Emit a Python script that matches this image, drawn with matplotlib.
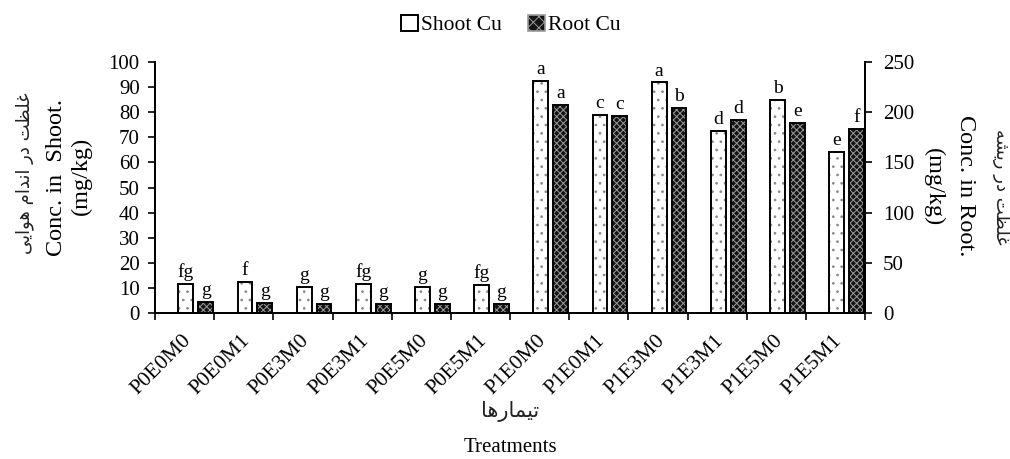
import numpy as np
import matplotlib
matplotlib.use("Agg")
import matplotlib.pyplot as plt
from matplotlib.patches import Patch

treatments = ["P0E0M0", "P0E0M1", "P0E3M0", "P0E3M1", "P0E5M0", "P0E5M1",
              "P1E0M0", "P1E0M1", "P1E3M0", "P1E3M1", "P1E5M0", "P1E5M1"]
shoot_cu = [11.7, 12.6, 10.4, 11.7, 10.4, 11.2, 92.5, 79.0, 91.8, 72.5, 84.8, 64.3]
root_cu = [11.5, 10.5, 9.0, 9.5, 9.0, 9.0, 207.0, 196.0, 204.0, 192.5, 189.0, 183.5]
shoot_letters = ["fg", "f", "g", "fg", "g", "fg", "a", "c", "a", "d", "b", "e"]
root_letters = ["g", "g", "g", "g", "g", "g", "a", "c", "b", "d", "e", "f"]

# persian text: matplotlib has no arabic shaping, so pick presentation forms by hand
# (iso, final, initial, medial)
FORMS = {
    "ا": ("\uFE8D", "\uFE8E", None, None),
    "ت": ("\uFE95", "\uFE96", "\uFE97", "\uFE98"),
    "د": ("\uFEA9", "\uFEAA", None, None),
    "ر": ("\uFEAD", "\uFEAE", None, None),
    "ش": ("\uFEB5", "\uFEB6", "\uFEB7", "\uFEB8"),
    "ظ": ("\uFEC5", "\uFEC6", "\uFEC7", "\uFEC8"),
    "غ": ("\uFECD", "\uFECE", "\uFECF", "\uFED0"),
    "ل": ("\uFEDD", "\uFEDE", "\uFEDF", "\uFEE0"),
    "م": ("\uFEE1", "\uFEE2", "\uFEE3", "\uFEE4"),
    "ن": ("\uFEE5", "\uFEE6", "\uFEE7", "\uFEE8"),
    "ه": ("\uFEE9", "\uFEEA", "\uFEEB", "\uFEEC"),
    "و": ("\uFEED", "\uFEEE", None, None),
    "ی": ("\uFEEF", "\uFEF0", "\uFEF3", "\uFEF4"),
}


def shape(txt):
    words = []
    for w in txt.split(" "):
        res = []
        for i, c in enumerate(w):
            iso, fin, ini, med = FORMS[c]
            prev_join = i > 0 and FORMS[w[i - 1]][2] is not None
            next_join = ini is not None and i < len(w) - 1
            if prev_join and next_join:
                res.append(med)
            elif prev_join:
                res.append(fin)
            elif next_join:
                res.append(ini)
            else:
                res.append(iso)
        words.append("".join(res))
    return " ".join(words)[::-1]


fa_shoot = shape("غلظت در اندام هوایی")
fa_root = shape("غلظت در ریشه")
fa_treat = shape("تیمارها")

plt.rcParams["font.family"] = ["Liberation Serif", "DejaVu Sans"]
plt.rcParams["hatch.linewidth"] = 0.7

fig = plt.figure(figsize=(10.1, 4.59), dpi=100)
ax = fig.add_axes([0.1535, 0.3174, 0.7030, 0.5481])
ax2 = ax.twinx()

x = np.arange(len(treatments))
w = 0.25
xs = x + 0.52
xr = x + 0.855

# shoot bars: white with sparse marks
ax.bar(xs, shoot_cu, w, color="white", edgecolor="#888888", hatch="..", lw=0, zorder=2)
ax.bar(xs, shoot_cu, w, color="none", edgecolor="black", lw=1.4, zorder=3)
# root bars: dark with light lattice
ax2.bar(xr, root_cu, w, color="#141414", edgecolor="#9a9a9a", hatch="xxxxx", lw=0, zorder=2)
ax2.bar(xr, root_cu, w, color="none", edgecolor="black", lw=1.4, zorder=3)

for xi, v, t in zip(xs, shoot_cu, shoot_letters):
    ax.annotate(t, (xi, v), xytext=(0, 2), textcoords="offset points",
                ha="center", va="bottom", fontsize=14)
for xi, v, t in zip(xr, root_cu, root_letters):
    ax2.annotate(t, (xi, v), xytext=(0, 2), textcoords="offset points",
                 ha="center", va="bottom", fontsize=14)

ax.set_xlim(0, len(treatments))
ax.set_ylim(0, 100)
ax2.set_ylim(0, 250)
ax.set_yticks(np.arange(0, 101, 10))
ax2.set_yticks(np.arange(0, 251, 50))
ax.set_xticks(np.arange(0, len(treatments) + 1))
ax.set_xticklabels([])
ax.set_xticks(x + 0.45, minor=True)
ax.set_xticklabels(treatments, minor=True, rotation=45, ha="right",
                   rotation_mode="anchor", fontsize=15.5)
ax.tick_params(axis="x", which="minor", length=0, pad=13)
ax.tick_params(axis="x", which="major", length=5, width=1.2, direction="out")
ax.tick_params(axis="y", labelsize=15, length=5, width=1.2, pad=6)
ax2.tick_params(axis="y", labelsize=15, length=5, width=1.2, pad=8)

for a in (ax, ax2):
    a.spines["top"].set_visible(False)
    for s in ("left", "right", "bottom"):
        a.spines[s].set_linewidth(1.3)

# axis titles
fig.text(25 / 1010, 1 - 173 / 459, fa_shoot, rotation=90, ha="center", va="center",
         fontsize=13, family="DejaVu Sans", color="#222222")
fig.text(57 / 1010, 1 - 177 / 459, "Conc. in  Shoot.", rotation=90, ha="center",
         va="center", fontsize=17.5)
fig.text(81 / 1010, 1 - 176 / 459, "(mg/kg)", rotation=90, ha="center", va="center",
         fontsize=17.5)
fig.text(1001 / 1010, 1 - 187 / 459, fa_root, rotation=270, ha="center", va="center",
         fontsize=13, family="DejaVu Sans", color="#222222")
fig.text(966 / 1010, 1 - 186 / 459, "Conc. in Root.", rotation=270, ha="center",
         va="center", fontsize=17.5)
fig.text(933 / 1010, 1 - 187 / 459, "(mg/kg)", rotation=270, ha="center", va="center",
         fontsize=17.5)
fig.text(510 / 1010, 1 - 412 / 459, fa_treat, ha="center", va="center",
         fontsize=15, family="DejaVu Sans", color="#222222")
fig.text(510 / 1010, 1 - 447 / 459, "Treatments", ha="center", va="center", fontsize=15)

handles = [Patch(facecolor="white", edgecolor="black", lw=1.4, label="Shoot Cu"),
           Patch(facecolor="#141414", edgecolor="#9a9a9a", hatch="xxx", lw=1.2,
                 label="Root Cu")]
fig.legend(handles=handles, loc="center", bbox_to_anchor=(511 / 1010, 1 - 25 / 459),
           ncol=2, frameon=False, fontsize=15.5, handlelength=0.8, handleheight=0.8,
           handletextpad=0.15, columnspacing=1.2)

fig.savefig("out.png", dpi=100)
